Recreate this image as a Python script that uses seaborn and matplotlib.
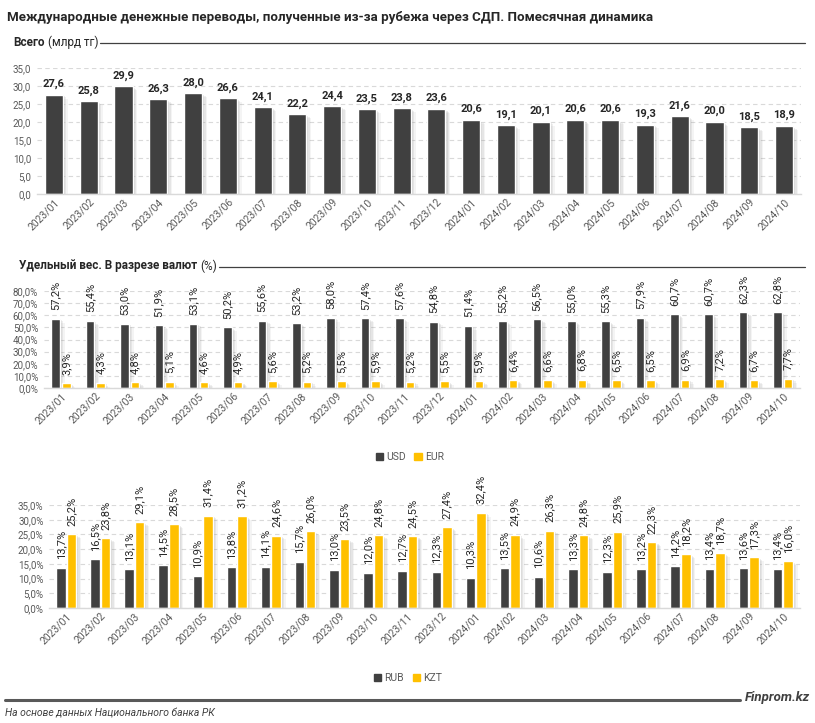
import matplotlib
matplotlib.use("Agg")
import matplotlib.pyplot as plt
import matplotlib.patheffects as pe
from matplotlib.patches import Patch
import seaborn as sns
import pandas as pd

months = ["2023/01", "2023/02", "2023/03", "2023/04", "2023/05", "2023/06", "2023/07", "2023/08",
          "2023/09", "2023/10", "2023/11", "2023/12", "2024/01", "2024/02", "2024/03", "2024/04",
          "2024/05", "2024/06", "2024/07", "2024/08", "2024/09", "2024/10"]
total = [27.6, 25.8, 29.9, 26.3, 28.0, 26.6, 24.1, 22.2, 24.4, 23.5, 23.8, 23.6,
         20.6, 19.1, 20.1, 20.6, 20.6, 19.3, 21.6, 20.0, 18.5, 18.9]
usd = [57.2, 55.4, 53.0, 51.9, 53.1, 50.2, 55.6, 53.2, 58.0, 57.4, 57.6, 54.8,
       51.4, 55.2, 56.5, 55.0, 55.3, 57.9, 60.7, 60.7, 62.3, 62.8]
eur = [3.9, 4.3, 4.8, 5.1, 4.6, 4.9, 5.6, 5.2, 5.5, 5.9, 5.2, 5.5,
       5.9, 6.4, 6.6, 6.8, 6.5, 6.5, 6.9, 7.2, 6.7, 7.7]
rub = [13.7, 16.5, 13.1, 14.5, 10.9, 13.8, 14.1, 15.7, 13.0, 12.0, 12.7, 12.3,
       10.3, 13.5, 10.6, 13.3, 12.3, 13.2, 14.2, 13.4, 13.6, 13.4]
kzt = [25.2, 23.8, 29.1, 28.5, 31.4, 31.2, 24.6, 26.0, 23.5, 24.8, 24.5, 27.4,
       32.4, 24.9, 26.3, 24.8, 25.9, 22.3, 18.2, 18.7, 17.3, 16.0]

title = "Международные денежные переводы, полученные из-за рубежа через СДП. Помесячная динамика"
source = "На основе данных Национального банка РК"

DARK = "#404040"
YEL = "#FFC000"
GRID = "#D9D9D9"
TICK = "#595959"

sns.set_theme(style="white")
plt.rcParams["font.family"] = ["Roboto", "DejaVu Sans"]

W, H = 815, 723
fig = plt.figure(figsize=(W / 100, H / 100), dpi=100)


def fx(px):
    return px / W


def fy(py):
    return 1 - py / H


def make_ax(left, right, top, bottom):
    return fig.add_axes([fx(left), fy(bottom), fx(right - left), (bottom - top) / H])


SHADOW = [pe.SimplePatchShadow(offset=(o, -o * 0.8), shadow_rgbFace="#7F7F7F", alpha=a)
          for o, a in [(3.5, 0.08), (2.5, 0.12), (1.5, 0.16)]] + [pe.Normal()]


def style_ax(ax, ymax, step, fmt):
    ax.set_ylim(0, ymax)
    ticks = [i * step for i in range(int(round(ymax / step)) + 1)]
    ax.set_yticks(ticks)
    ax.set_yticklabels([fmt(t) for t in ticks], color=TICK, fontsize=7)
    ax.tick_params(axis="y", length=0, pad=4)
    ax.tick_params(axis="x", length=0, pad=2)
    for lab in ax.get_xticklabels():
        lab.set_rotation(45)
        lab.set_ha("right")
        lab.set_rotation_mode("anchor")
        lab.set_color(TICK)
        lab.set_fontsize(7.5)
    ax.set_xlabel("")
    ax.set_ylabel("")
    for s in ["top", "right", "left"]:
        ax.spines[s].set_visible(False)
    ax.spines["bottom"].set_color(GRID)
    ax.spines["bottom"].set_linewidth(1)
    ax.yaxis.grid(True, color=GRID, linestyle=(0, (4, 3)), linewidth=0.8)
    ax.set_axisbelow(True)
    for p in ax.patches:
        p.set_path_effects(SHADOW)


# ---------- Chart 1 ----------
ax1 = make_ax(36.6, 801.4, 68, 194)
df1 = pd.DataFrame({"month": months, "total": total})
sns.barplot(data=df1, x="month", y="total", color=DARK, width=0.52, saturation=1, ax=ax1)
style_ax(ax1, 35, 5, lambda t: f"{t:.1f}".replace(".", ","))
ax1.set_xlim(-0.5, len(months) - 0.5)
ax1.bar_label(ax1.containers[0], labels=[f"{v:.1f}".replace(".", ",") for v in total],
              padding=4, fontsize=8, fontweight="bold", color="#262626")

# ---------- Chart 2 ----------
ax2 = make_ax(43.8, 800, 291, 388)
df2 = pd.DataFrame({"month": months * 2, "share": usd + eur,
                    "cur": ["USD"] * len(months) + ["EUR"] * len(months)})
sns.barplot(data=df2, x="month", y="share", hue="cur", palette=[DARK, YEL], width=0.62, gap=0.2,
            saturation=1, legend=False, ax=ax2)
style_ax(ax2, 80, 10, lambda t: f"{t:.1f}%".replace(".", ","))
ax2.set_xlim(-0.5, len(months) - 0.5)
for cont, vals in zip(ax2.containers, [usd, eur]):
    ax2.bar_label(cont, labels=[f"{v:.1f}%".replace(".", ",") for v in vals], padding=6,
                  rotation=90, fontsize=8, color="#262626")
fig.legend(handles=[Patch(color=DARK, label="USD"), Patch(color=YEL, label="EUR")],
           loc="center", bbox_to_anchor=(fx(410), fy(457)), ncol=2, frameon=False, fontsize=7.5,
           handlelength=0.7, handleheight=0.7, handletextpad=0.3, columnspacing=0.8,
           labelcolor=TICK)

# ---------- Chart 3 ----------
ax3 = make_ax(49, 800, 505, 608)
df3 = pd.DataFrame({"month": months * 2, "share": rub + kzt,
                    "cur": ["RUB"] * len(months) + ["KZT"] * len(months)})
sns.barplot(data=df3, x="month", y="share", hue="cur", palette=[DARK, YEL], width=0.62, gap=0.1,
            saturation=1, legend=False, ax=ax3)
style_ax(ax3, 35, 5, lambda t: f"{t:.1f}%".replace(".", ","))
ax3.set_xlim(-0.5, len(months) - 0.5)
for cont, vals in zip(ax3.containers, [rub, kzt]):
    ax3.bar_label(cont, labels=[f"{v:.1f}%".replace(".", ",") for v in vals], padding=6,
                  rotation=90, fontsize=8, color="#262626")
fig.legend(handles=[Patch(color=DARK, label="RUB"), Patch(color=YEL, label="KZT")],
           loc="center", bbox_to_anchor=(fx(408), fy(678)), ncol=2, frameon=False, fontsize=7.5,
           handlelength=0.7, handleheight=0.7, handletextpad=0.3, columnspacing=0.8,
           labelcolor=TICK)

# ---------- Titles / headers ----------
fig.text(fx(7), fy(18), title, fontsize=9.6, fontweight="bold", color="#262626", va="center")

renderer = fig.canvas.get_renderer()


def header(x_px, y_px, bold, regular):
    t1 = fig.text(fx(x_px), fy(y_px), bold, fontsize=8.5, fontweight="bold", color="#262626", va="center")
    bb = t1.get_window_extent(renderer)
    t2 = fig.text(bb.x1 / W + fx(3), fy(y_px), regular, fontsize=8.5, color="#262626", va="center")
    bb2 = t2.get_window_extent(renderer)
    fig.add_artist(plt.Line2D([bb2.x1 / W + fx(2), fx(805)], [fy(y_px + 1), fy(y_px + 1)],
                              color="#404040", linewidth=0.9))


header(13, 42, "Всего", "(млрд тг)")
header(19, 266, "Удельный вес. В разрезе валют", "(%)")

# ---------- Footer ----------
fig.add_artist(plt.Line2D([fx(5), fx(740)], [fy(700), fy(700)], color="#595959", linewidth=2.2))
fig.text(fx(810), fy(697), "Finprom.kz", fontsize=9.5, fontweight="bold", fontstyle="italic",
         color="#404040", ha="right", va="center")
fig.text(fx(5), fy(713), source, fontsize=7.5, fontstyle="italic", color="#404040", va="center")

fig.savefig("out.png", dpi=100)
